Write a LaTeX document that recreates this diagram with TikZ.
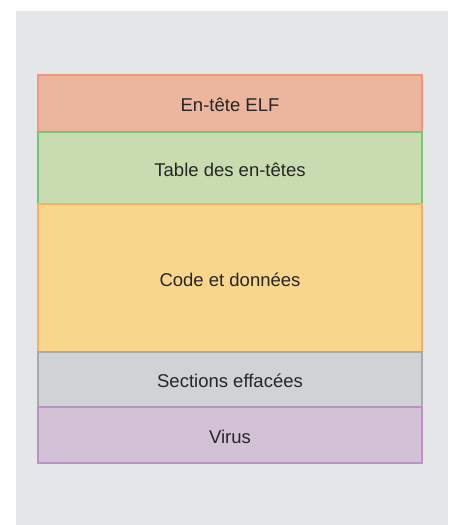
\documentclass[tikz,border=0pt]{standalone}
\usepackage{fontspec}
\setmainfont{Liberation Sans}
\definecolor{bgpanel}{HTML}{E4E6E8}
\definecolor{hdrfill}{HTML}{EBB69D}
\definecolor{hdrline}{HTML}{F2977B}
\definecolor{tblfill}{HTML}{C8DCB0}
\definecolor{tblline}{HTML}{76C478}
\definecolor{codefill}{HTML}{F8D68C}
\definecolor{codeline}{HTML}{F5B066}
\definecolor{delfill}{HTML}{D0D2D4}
\definecolor{delline}{HTML}{A9A9AB}
\definecolor{virfill}{HTML}{D3C1D6}
\definecolor{virline}{HTML}{BB92C6}
\tikzset{
  seg/.style={draw=#1line, fill=#1fill, line width=1.3pt},
  lbl/.style={font=\fontsize{18.5pt}{22pt}\selectfont, text=black!85, yshift=-1.5pt}
}
\begin{document}
\begin{tikzpicture}[x=1pt,y=1pt]
  \useasboundingbox (0,0) rectangle (453,525);
  % panel behind the layout
  \fill[bgpanel] (16,0) rectangle (448,514);
  % file segments, top to bottom
  \draw[seg=hdr]  (38,450) rectangle (422,393) node[midway,lbl] (hdr) {En-tête ELF};
  \draw[seg=tbl]  (38,393) rectangle (422,321) node[midway,lbl] (tbl) {Table des en-têtes};
  \draw[seg=code] (38,321) rectangle (422,173) node[midway,lbl] (code) {Code et données};
  \draw[seg=del]  (38,173) rectangle (422,118) node[midway,lbl] (del) {Sections effacées};
  \draw[seg=vir]  (38,118) rectangle (422,62)  node[midway,lbl] (vir) {Virus};
\end{tikzpicture}
\end{document}
